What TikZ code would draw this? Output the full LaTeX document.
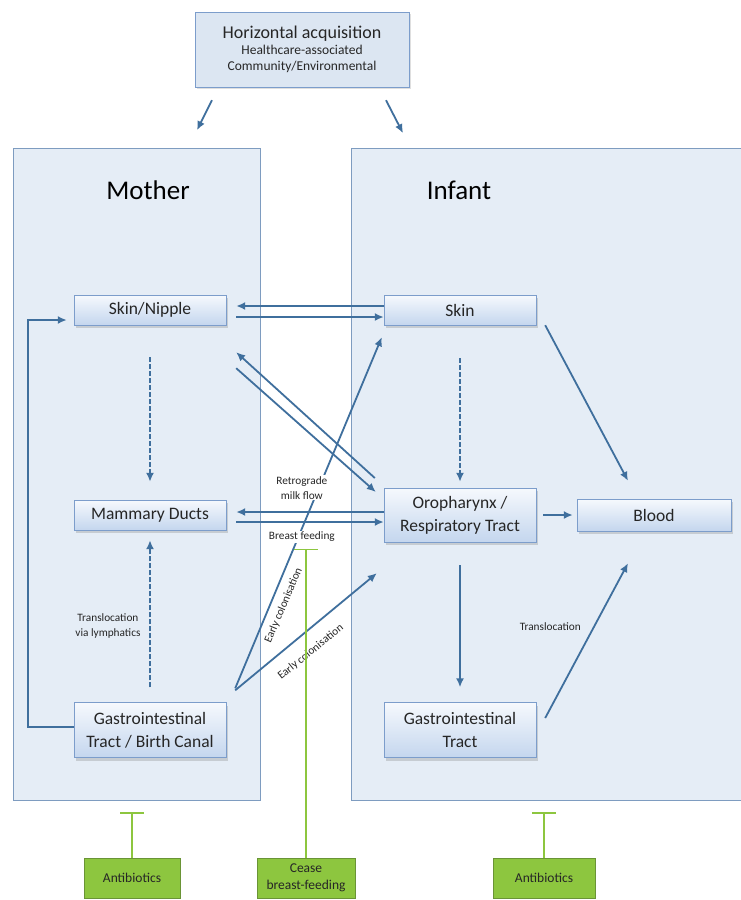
\documentclass[tikz,border=0pt]{standalone}
\usepackage{fontspec}
\setmainfont{Carlito}
\usetikzlibrary{arrows.meta,shadows}

\definecolor{arrowblue}{HTML}{3F6F9D}
\definecolor{panelfill}{HTML}{E5EDF6}
\definecolor{paneldraw}{HTML}{7E9CC0}
\definecolor{boxtop}{HTML}{F6F9FD}
\definecolor{boxbot}{HTML}{C4D6EE}
\definecolor{boxdraw}{HTML}{7C9DCB}
\definecolor{srcfill}{HTML}{DCE6F2}
\definecolor{tgreen}{HTML}{8DC63F}
\definecolor{tgreendraw}{HTML}{6A9436}
\definecolor{inktext}{HTML}{262626}

\tikzset{
  site/.style={rectangle, draw=boxdraw, top color=boxtop, bottom color=boxbot,
    minimum width=152pt, minimum height=30pt, align=center, inner sep=2pt,
    text=inktext, font=\fontsize{17.5}{23}\selectfont,
    drop shadow={opacity=0.3, shadow xshift=2pt, shadow yshift=-3pt}},
  panel/.style={rectangle, draw=paneldraw, fill=panelfill, line width=0.8pt},
  title/.style={text=black, font=\fontsize{27}{32}\selectfont},
  treat/.style={rectangle, draw=tgreendraw, fill=tgreen, align=center,
    text=inktext, font=\fontsize{13.5}{17}\selectfont, minimum height=40pt, inner sep=2pt},
  note/.style={text=inktext, font=\fontsize{11.3}{15}\selectfont, align=center},
  flow/.style={-{Latex[length=9pt,width=8pt]}, draw=arrowblue, line width=1.8pt},
  dashflow/.style={flow, dash pattern=on 5pt off 2pt, line width=2.4pt},
  blocker/.style={-{Bar[width=24pt]}, draw=tgreen, line width=1.6pt},
}

\begin{document}
\begin{tikzpicture}[x=1pt,y=-1pt]
  \useasboundingbox[fill=white] (0,0) rectangle (741,900);

  % compartments
  \node[panel, minimum width=247pt, minimum height=652pt] (mother) at (136.5,474) {};
  \node[panel, minimum width=394pt, minimum height=652pt] (infant) at (548,474) {};
  \node[title] (mtitle) at (148,190) {Mother};
  \node[title] (ititle) at (459,190) {Infant};

  \node[rectangle, draw=boxdraw, fill=srcfill, minimum width=214pt, minimum height=75pt,
    align=center, text=inktext, font=\fontsize{13.5}{16}\selectfont, inner sep=1pt,
    drop shadow={opacity=0.25, shadow xshift=1.5pt, shadow yshift=-2pt}] (horiz) at (302,49.5)
    {{\fontsize{18}{20}\selectfont Horizontal acquisition}\\Healthcare-associated\\Community/Environmental};

  % mother sites
  \node[site] (nipple) at (150,310) {Skin/Nipple};
  \node[site] (ducts) at (150,515) {Mammary Ducts};
  \node[site, minimum height=55pt] (mgi) at (150,730) {Gastrointestinal\\Tract / Birth Canal};

  % infant sites
  \node[site] (skin) at (460,310) {Skin};
  \node[site, minimum height=54pt] (oro) at (460,515) {Oropharynx /\\Respiratory Tract};
  \node[site, minimum width=154pt, minimum height=32pt] (blood) at (654,515) {Blood};
  \node[site, minimum height=55pt] (igi) at (460,730) {Gastrointestinal\\Tract};

  % interventions
  \node[treat, minimum width=96pt] (abm) at (132,878) {Antibiotics};
  \node[treat, minimum width=98pt] (cease) at (306,878) {Cease\\breast-feeding};
  \node[treat, minimum width=102pt] (abi) at (544,878) {Antibiotics};

  % horizontal acquisition
  \draw[flow] ([xshift=-90pt,yshift=-13pt]horiz.south) -- ([xshift=-105pt,yshift=-43pt]horiz.south);
  \draw[flow] ([xshift=84pt,yshift=-13pt]horiz.south) -- ([xshift=101pt,yshift=-46pt]horiz.south);

  % mother internal
  \draw[dashflow] ([yshift=-32pt]nipple.south) -- ([yshift=18pt]ducts.north);
  \draw[dashflow] ([yshift=15pt]mgi.north) -- ([yshift=-10pt]ducts.south)
    node[note, pos=0.42, left=5pt] {Translocation\\via lymphatics};
  \draw[flow] ([yshift=3pt]mgi.west) -- ++(-46,0) |- ([yshift=-10pt,xshift=-7pt]nipple.west);

  % early colonisation
  \draw[flow] ([xshift=9pt,yshift=14pt]mgi.north east) -- ([xshift=-2pt,yshift=-12pt]skin.south west)
    node[note, pos=0.25, rotate=67, anchor=north, inner sep=7pt] {Early colonisation};
  \draw[flow] ([xshift=9pt,yshift=12pt]mgi.north east) -- ([xshift=-7pt,yshift=-31pt]oro.south west)
    node[note, pos=0.45, rotate=39, anchor=north, inner sep=13pt] {Early colonisation};

  % mother <-> infant
  \draw[flow, shorten >=10pt] ([yshift=4pt]skin.west) -- ([yshift=4pt]skin.west -| nipple.east);
  \draw[flow, shorten <=10pt] ([yshift=-7pt]nipple.east) -- ([yshift=-7pt]nipple.east -| skin.west);
  \draw[flow] ([xshift=-9pt,yshift=37pt]oro.west) -- ([xshift=10pt,yshift=-27pt]nipple.south east);
  \draw[flow] ([xshift=10pt,yshift=-43pt]nipple.south east) -- ([xshift=-8pt,yshift=23pt]oro.west);
  \draw[flow, shorten >=10pt] ([yshift=3pt]oro.west) -- ([yshift=3pt]oro.west -| ducts.east)
    node[note, fill=white, inner sep=1pt, pos=0.52, above=11pt] {Retrograde\\milk flow};
  \draw[flow, shorten <=10pt] ([yshift=-7pt]ducts.east) -- ([yshift=-7pt]ducts.east -| oro.west)
    node[note, fill=white, inner sep=1pt, pos=0.48, below=8pt] (bfeed) {Breast feeding};

  % infant internal
  \draw[dashflow] ([yshift=-33pt]skin.south) -- ([yshift=6pt]oro.north);
  \draw[flow] (oro.east) ++(7,0) -- ([xshift=-4pt]blood.west);
  \draw[flow] ([xshift=9pt]skin.south east) -- ([xshift=-26pt,yshift=18pt]blood.north);
  \draw[flow, line width=2.4pt] ([yshift=-23pt]oro.south) -- ([yshift=15pt]igi.north);
  \draw[flow] ([xshift=9pt,yshift=12pt]igi.east) -- ([xshift=-26pt,yshift=-32pt]blood.south)
    node[note, pos=0.59, left=9pt] {Translocation};

  % interventions block
  \draw[blocker, shorten >=12pt] (abm.north) -- (abm.north |- mother.south);
  \draw[blocker, shorten >=12pt] (abi.north) -- (abi.north |- infant.south);
  \draw[blocker, shorten >=5pt] (cease.north) -- (cease.north |- bfeed.south);
\end{tikzpicture}
\end{document}
